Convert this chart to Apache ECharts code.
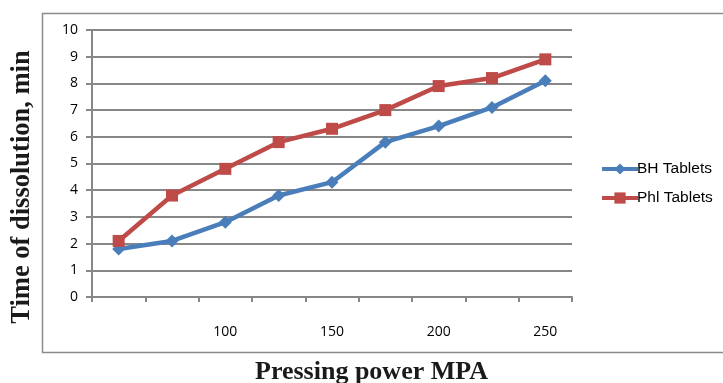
<!DOCTYPE html>
<html>
<head>
<meta charset="utf-8">
<script src="https://cdn.jsdelivr.net/npm/echarts@6/dist/echarts.min.js"></script>
<style>
html,body{margin:0;padding:0;background:#fff;}
#chart{width:723px;height:383px;}
</style>
</head>
<body>
<div id="chart"></div>
<script>
var tickLabels = ['', '', '100', '', '150', '', '200', '', '250'];
var bhTablets = [1.8, 2.1, 2.8, 3.8, 4.3, 5.8, 6.4, 7.1, 8.1];
var phlTablets = [2.1, 3.8, 4.8, 5.8, 6.3, 7.0, 7.9, 8.2, 8.9];
var seriesNames = ['BH Tablets', 'Phl Tablets'];
var yTitle = 'Time of dissolution, min';
var xTitle = 'Pressing power MPA';

var gridColor = '#878787';
var chart = echarts.init(document.getElementById('chart'), null, {renderer: 'canvas'});
chart.setOption({
  animation: false,
  backgroundColor: '#ffffff',
  grid: {left: 92, right: 151, top: 30, bottom: 86, containLabel: false},
  xAxis: {
    type: 'category',
    data: tickLabels,
    boundaryGap: true,
    axisLine: {show: true, lineStyle: {color: gridColor, width: 2}},
    axisTick: {show: true, interval: 0, length: 5, lineStyle: {color: gridColor, width: 2}},
    axisLabel: {interval: 0, margin: 28, fontFamily: 'Open Sans', fontSize: 14, color: '#000'},
    splitLine: {show: false}
  },
  yAxis: {
    type: 'value',
    min: 0, max: 10, interval: 1,
    axisLine: {show: true, lineStyle: {color: gridColor, width: 2}},
    axisTick: {show: true, length: 6, lineStyle: {color: gridColor, width: 2}},
    axisLabel: {margin: 14, fontFamily: 'Open Sans', fontSize: 14, color: '#000'},
    splitLine: {show: true, lineStyle: {color: gridColor, width: 2}}
  },
  legend: {
    orient: 'vertical',
    left: 595, top: 156,
    itemWidth: 36, itemHeight: 14, itemGap: 13,
    lineStyle: {width: 4},
    textStyle: {fontFamily: 'Liberation Sans', fontSize: 15.5, color: '#000', padding: [0,0,0,-6]},
    data: seriesNames
  },
  series: [
    {
      name: seriesNames[0], type: 'line', data: bhTablets,
      symbol: 'diamond', symbolSize: 13,
      itemStyle: {color: '#4A7EBB'},
      lineStyle: {color: '#4A7EBB', width: 4.5}
    },
    {
      name: seriesNames[1], type: 'line', data: phlTablets,
      symbol: 'rect', symbolSize: 12,
      itemStyle: {color: '#BE4B48'},
      lineStyle: {color: '#BE4B48', width: 4.5}
    }
  ],
  graphic: [
    {type: 'rect', shape: {x: 42.5, y: 13.5, width: 720, height: 339}, style: {fill: 'none', stroke: '#8c8c8c', lineWidth: 1.5}, silent: true, z: -1},
    {type: 'text', x: 371.5, y: 372, style: {text: xTitle, font: 'bold 26px "Liberation Serif"', fill: '#1a1a1a', textAlign: 'center', textVerticalAlign: 'middle'}},
    {type: 'text', x: 22, y: 187, rotation: Math.PI / 2, style: {text: yTitle, font: 'bold 26.5px "Liberation Serif"', fill: '#1a1a1a', textAlign: 'center', textVerticalAlign: 'middle'}}
  ]
});
</script>
</body>
</html>
